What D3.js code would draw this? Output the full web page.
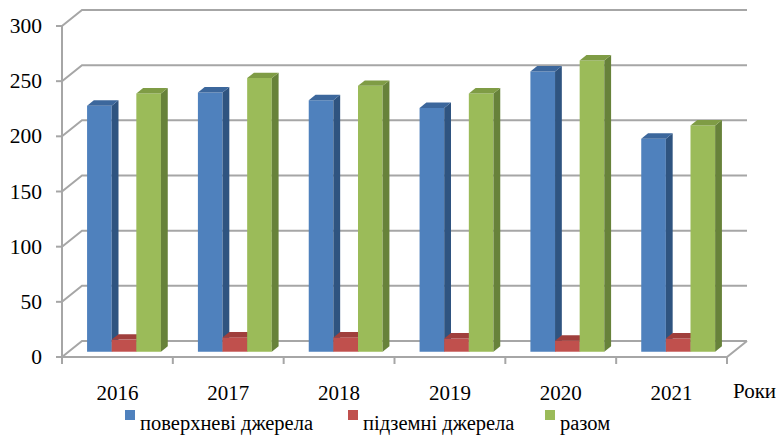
<!DOCTYPE html>
<html>
<head>
<meta charset="utf-8">
<script src="https://cdn.jsdelivr.net/npm/d3@7"></script>
<style>
  body { margin: 0; background: #fff; }
</style>
</head>
<body>
<div id="canvas"></div>
<script>
const canvWidth = 783, canvHeight = 438;
const fontFamily = "'Liberation Serif', 'Times New Roman', serif";

// data
const years = ["2016", "2017", "2018", "2019", "2020", "2021"];
const surface = [223, 235, 228, 221, 254, 193];
const underground = [11, 13, 13, 12, 10, 12];
const total = [234, 248, 241, 234, 264, 205];
const seriesNames = ["поверхневі джерела", "підземні джерела", "разом"];
const yTicks = [0, 50, 100, 150, 200, 250, 300];

const series = [surface, underground, total];
const colors = [
    {front: "#4f81bd", side: "#2f5480", top: "#3c679c"},
    {front: "#c0504d", side: "#8c3331", top: "#a03f3c"},
    {front: "#9bbb59", side: "#67823a", top: "#7f9c45"}
];

const svg = d3.select("#canvas").append("svg")
    .attr("width", canvWidth)
    .attr("height", canvHeight);

// front plane of the box
const x = d3.scaleBand().domain(years).range([62, 727]);
const y = d3.scaleLinear().domain([0, 300]).range([357, 26]);

// oblique depth of the whole box
const DX = 20, DY = -16;
const barDepth0 = 0.33, barDepth1 = 0.67;
const bw = x.bandwidth() / 4.5;

const gridColor = "#a6a6a6";

function pt(px, py, d) {
    return [px + d * DX, py + d * DY];
}

function label(tx, ty, str, size, anchor) {
    return svg.append("text")
        .attr("x", tx)
        .attr("y", ty)
        .attr("text-anchor", anchor || "start")
        .attr("font-family", fontFamily)
        .attr("font-size", size)
        .attr("fill", "#000")
        .text(str);
}

// wall gridlines (left wall diagonal + back wall)
yTicks.forEach(function (t) {
    const p0 = [62, y(t)], p1 = pt(62, y(t), 1), p2 = pt(727, y(t), 1);
    svg.append("polyline")
        .attr("points", [p0, p1, p2].map(p => p.join(",")).join(" "))
        .attr("fill", "none")
        .attr("stroke", gridColor)
        .attr("stroke-width", 2);
});

// floor outline
const f0 = [62, y(0)], f1 = [727, y(0)], f2 = pt(727, y(0), 1);
svg.append("polyline")
    .attr("points", [f0, f1, f2].map(p => p.join(",")).join(" "))
    .attr("fill", "none")
    .attr("stroke", gridColor)
    .attr("stroke-width", 2);

// y axis line and ticks
svg.append("line")
    .attr("x1", 62).attr("x2", 62)
    .attr("y1", y(300)).attr("y2", y(0) + 7)
    .attr("stroke", gridColor).attr("stroke-width", 2);

yTicks.forEach(function (t) {
    svg.append("line")
        .attr("x1", 56).attr("x2", 62)
        .attr("y1", y(t)).attr("y2", y(t))
        .attr("stroke", gridColor).attr("stroke-width", 2);
    label(42, y(t) + 7, t, 21.5, "end");
});

// x ticks at category boundaries
years.forEach(function (yr) {
    const bx = x(yr) + x.bandwidth();
    svg.append("line")
        .attr("x1", bx).attr("x2", bx)
        .attr("y1", y(0)).attr("y2", y(0) + 7)
        .attr("stroke", gridColor).attr("stroke-width", 2);
    label(x(yr) + x.bandwidth() / 2, 400, yr, 21, "middle");
});

label(733, 398, "Роки", 21);

// bars
function poly(points, fill) {
    svg.append("polygon")
        .attr("points", points.map(p => p.join(",")).join(" "))
        .attr("fill", fill);
}

years.forEach(function (yr, i) {
    const gx = x(yr) + (x.bandwidth() - 3 * bw) / 2;
    series.forEach(function (s, k) {
        const x0 = gx + k * bw, x1 = x0 + bw;
        const yt = y(s[i]), yb = y(0);
        const c = colors[k];
        // front
        poly([pt(x0, yt, barDepth0), pt(x1, yt, barDepth0), pt(x1, yb, barDepth0), pt(x0, yb, barDepth0)], c.front);
        // right side
        poly([pt(x1, yt, barDepth0), pt(x1, yt, barDepth1), pt(x1, yb, barDepth1), pt(x1, yb, barDepth0)], c.side);
        // top
        poly([pt(x0, yt, barDepth0), pt(x1, yt, barDepth0), pt(x1, yt, barDepth1), pt(x0, yt, barDepth1)], c.top);
    });
});

// legend
const legendX = [125, 348, 545];
seriesNames.forEach(function (name, k) {
    svg.append("rect")
        .attr("x", legendX[k]).attr("y", 410)
        .attr("width", 10).attr("height", 10)
        .attr("fill", colors[k].front);
    label(legendX[k] + 15, 430, name, 20.5);
});
</script>
</body>
</html>
